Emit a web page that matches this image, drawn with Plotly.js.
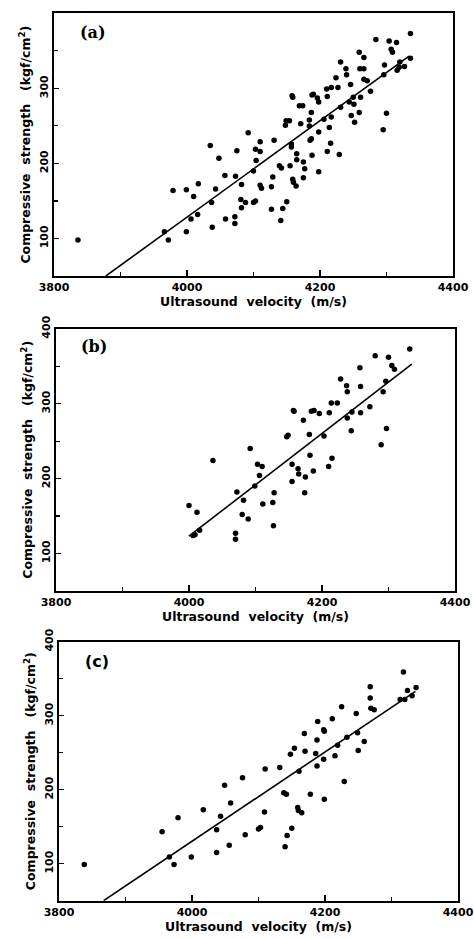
<!DOCTYPE html>
<html>
<head>
<meta charset="utf-8">
<script src="https://cdn.plot.ly/plotly-3.0.1.min.js"></script>
<style>html,body{margin:0;padding:0;background:#fff;}#chart{width:474px;height:939px;}</style>
</head>
<body>
<div id="chart"></div>
<script>
// Panel (a): all specimens
const ax = [3836,3966,3972,3979,3999,3999,4010,4006,4016,4017,4035,4037,4038,4043,4048,4057,4058,4072,4072,4073,4075,4081,4082,4082,4088,4092,4100,4103,4100,4104,4103,4110,4110,4110,4112,4127,4127,4129,4131,4139,4142,4141,4144,4150,4148,4149,4154,4155,4157,4157,4158,4159,4159,4160,4164,4165,4165,4169,4174,4171,4175,4177,4175,4184,4184,4185,4187,4187,4188,4190,4188,4196,4198,4198,4198,4206,4210,4211,4211,4214,4216,4217,4217,4224,4227,4229,4231,4231,4239,4240,4244,4246,4247,4250,4251,4252,4259,4260,4261,4259,4266,4266,4266,4271,4276,4284,4295,4297,4296,4300,4304,4307,4309,4315,4316,4319,4327,4336,4336,4320];
const ay = [98,109,98,164,165,109,156,126,132,173,224,148,115,166,207,184,126,129,120,183,217,152,172,141,148,241,148,150,190,204,219,216,229,171,167,169,139,182,231,197,194,124,140,149,251,257,257,197,222,226,290,288,179,175,170,213,205,277,277,253,202,193,181,258,250,231,233,268,291,292,211,287,282,242,189,259,299,289,216,248,227,262,301,314,301,212,335,275,326,318,282,305,264,288,279,255,348,326,288,268,341,326,312,310,296,365,245,331,318,267,363,352,348,361,324,328,329,373,340,335];
// Panel (b)
const bx = [4000,4009,4012,4016,4006,4036,4070,4070,4072,4080,4082,4089,4092,4099,4103,4106,4110,4111,4126,4128,4127,4147,4149,4155,4155,4157,4158,4164,4165,4172,4175,4174,4181,4182,4184,4188,4187,4196,4203,4210,4211,4214,4215,4223,4228,4237,4238,4238,4244,4245,4257,4258,4258,4272,4280,4289,4292,4296,4297,4300,4305,4309,4332];
const by = [164,125,155,131,124,224,127,119,182,152,171,146,240,190,219,204,216,166,168,181,137,256,258,196,219,291,290,213,206,278,202,181,259,231,290,291,210,287,257,216,288,301,227,301,333,324,316,281,264,289,348,323,288,296,364,245,316,330,267,362,351,346,373];
// Panel (c)
const cx = [3838,3955,3966,3973,3979,3999,4017,4037,4037,4043,4049,4056,4058,4076,4080,4100,4103,4109,4110,4132,4138,4142,4140,4143,4150,4148,4154,4159,4160,4165,4161,4169,4170,4178,4186,4188,4188,4189,4198,4199,4198,4199,4211,4215,4219,4225,4229,4233,4247,4249,4250,4259,4268,4268,4269,4274,4313,4318,4320,4324,4331,4337];
const cy = [99,143,109,99,162,109,173,146,115,164,206,125,182,216,139,147,149,170,228,230,196,194,123,138,148,248,256,176,172,169,225,276,252,194,249,267,232,292,281,279,241,187,296,246,260,312,211,271,303,277,253,265,339,324,310,308,322,359,322,334,327,338];
// Fitted regression lines (end points)
const fitAx = [3878,4334], fitAy = [50,343];
const fitBx = [4000,4335], fitBy = [123,353];
const fitCx = [3867,4336], fitCy = [50,333];
// Text
const panelLabels = ['(a)','(b)','(c)'];
const xTitle = 'Ultrasound\u00a0\u00a0velocity\u00a0\u00a0(m/s)';
const yTitle = 'Compressive\u00a0\u00a0strength\u00a0\u00a0\u00a0(kgf/cm<sup>2</sup>)';

const mk = {color:'#000', size:5.5};
const ln = {color:'#000', width:1.6};
const traces = [
  {x:ax, y:ay, mode:'markers', marker:mk, xaxis:'x', yaxis:'y', type:'scatter'},
  {x:fitAx, y:fitAy, mode:'lines', line:ln, xaxis:'x', yaxis:'y', type:'scatter'},
  {x:bx, y:by, mode:'markers', marker:mk, xaxis:'x2', yaxis:'y2', type:'scatter'},
  {x:fitBx, y:fitBy, mode:'lines', line:ln, xaxis:'x2', yaxis:'y2', type:'scatter'},
  {x:cx, y:cy, mode:'markers', marker:mk, xaxis:'x3', yaxis:'y3', type:'scatter'},
  {x:fitCx, y:fitCy, mode:'lines', line:ln, xaxis:'x3', yaxis:'y3', type:'scatter'}
];

const tickFont = {family:'DejaVu Sans', size:11, color:'#000', weight:'bold'};
const titleFont = {family:'DejaVu Sans', size:12.5, color:'#000', weight:'bold'};
function xa(dom, anchor){
  return {domain:dom, anchor:anchor, range:[3800,4400], dtick:200, tick0:3800,
    ticks:'inside', ticklen:6, tickwidth:1.3, tickcolor:'#000',
    minor:{dtick:100, ticks:'inside', ticklen:4, tickwidth:1.2, tickcolor:'#000'},
    showline:true, mirror:true, linewidth:2, linecolor:'#000', showgrid:false, zeroline:false,
    tickfont:tickFont, title:{text:xTitle, font:titleFont, standoff:3}};
}
function ya(dom, anchor){
  return {domain:dom, anchor:anchor, range:[50,400], dtick:100, tick0:0,
    ticks:'inside', ticklen:5, tickwidth:1.3, tickcolor:'#000',
    minor:{dtick:50, ticks:'inside', ticklen:4, tickwidth:1.2, tickcolor:'#000'},
    showline:true, mirror:true, linewidth:2, linecolor:'#000', showgrid:false, zeroline:false,
    tickangle:-90, tickfont:tickFont, title:{text:yTitle, font:titleFont, standoff:4}};
}
const layout = {
  width:474, height:939, margin:{l:0,r:0,t:0,b:0}, showlegend:false,
  paper_bgcolor:'#fff', plot_bgcolor:'#fff',
  xaxis: xa([0.1139,0.9557],'y'), yaxis: ya([0.7061,0.9858],'x'),
  xaxis2: xa([0.1181,0.9599],'y2'), yaxis2: ya([0.3708,0.6498],'x2'),
  xaxis3: xa([0.1245,0.9662],'y3'), yaxis3: ya([0.0408,0.3166],'x3'),
  annotations:[
    {text:panelLabels[0], xref:'x domain', yref:'y domain', x:0.06, y:0.928, xanchor:'left', yanchor:'middle', showarrow:false, font:{family:'DejaVu Serif', size:16, color:'#000', weight:'bold'}},
    {text:panelLabels[1], xref:'x2 domain', yref:'y2 domain', x:0.058, y:0.932, xanchor:'left', yanchor:'middle', showarrow:false, font:{family:'DejaVu Serif', size:16, color:'#000', weight:'bold'}},
    {text:panelLabels[2], xref:'x3 domain', yref:'y3 domain', x:0.06, y:0.924, xanchor:'left', yanchor:'middle', showarrow:false, font:{family:'DejaVu Sans', size:16, color:'#000', weight:'bold'}}
  ]
};
Plotly.newPlot('chart', traces, layout, {displayModeBar:false, staticPlot:true});
</script>
</body>
</html>
